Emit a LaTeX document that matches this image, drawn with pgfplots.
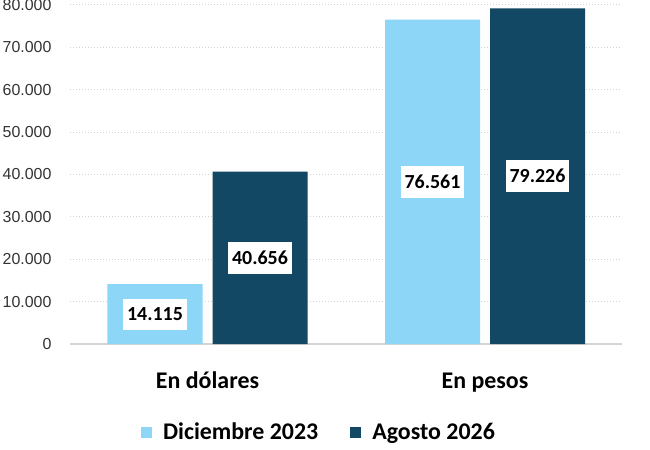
\documentclass[border=0pt]{standalone}
\usepackage{pgfplots}
\pgfplotsset{compat=1.18}
\usepackage{fontspec}
\setmainfont{Carlito}
\newfontfamily\tickfont{Liberation Sans}
\definecolor{lblue}{HTML}{8ED6F7}
\definecolor{dblue}{HTML}{124863}
\definecolor{gridc}{HTML}{D4D4D4}
\begin{document}
\begin{tikzpicture}
\begin{axis}[
  at={(0,0)}, anchor=south west,
  scale only axis, width=552bp, height=339bp,
  ybar=10bp, bar width=95bp,
  xmin=-0.4955, xmax=1.4937,
  ymin=0, ymax=80000,
  xtick={0,1}, xticklabels={En dólares, En pesos},
  ytick={0,10000,...,80000},
  scaled y ticks=false,
  axis lines*=left,
  y axis line style={draw=none},
  x axis line style={gridc, line width=1.2bp},
  major tick length=0pt,
  ymajorgrids,
  grid style={gridc, line width=1bp, dash pattern=on 1.5bp off 1.5bp},
  /pgf/number format/assume math mode=true,
  yticklabel style={/pgf/number format/fixed, /pgf/number format/1000 sep={.},
    font=\tickfont\fontsize{16}{19}\selectfont, text=black!80, xshift=-15bp},
  xticklabel style={font=\fontsize{24}{28}\selectfont\bfseries, anchor=base, yshift=-44bp},
  visualization depends on=y \as \rawy,
  nodes near coords={\pgfmathprintnumber[fixed, precision=0, 1000 sep={.}, assume math mode=true]{\pgfplotspointmeta}},
  every node near coord/.append style={fill=white, text=black,
    font=\fontsize{20}{24}\selectfont\bfseries, inner xsep=4bp, inner ysep=9bp,
    anchor=center, shift={(axis direction cs:0,-\rawy/2)}},
  legend style={at={(0.451,-0.26)}, anchor=center, draw=none, fill=none,
    legend columns=2, font=\fontsize{24}{28}\selectfont\bfseries,
    /tikz/every odd column/.append style={column sep=9bp},
    /tikz/every even column/.append style={column sep=30bp}},
  legend image code/.code={\fill[#1] (0bp,-5.5bp) rectangle (11bp,5.5bp);},
]
\addplot[fill=lblue, draw=none] coordinates {(0,14115) (1,76561)};
\addplot[fill=dblue, draw=none] coordinates {(0,40656) (1,79226)};
\legend{Diciembre 2023, Agosto 2026}
\end{axis}
\pgfresetboundingbox
\useasboundingbox (-70bp,-106bp) rectangle (580bp,344bp);
\end{tikzpicture}
\end{document}
